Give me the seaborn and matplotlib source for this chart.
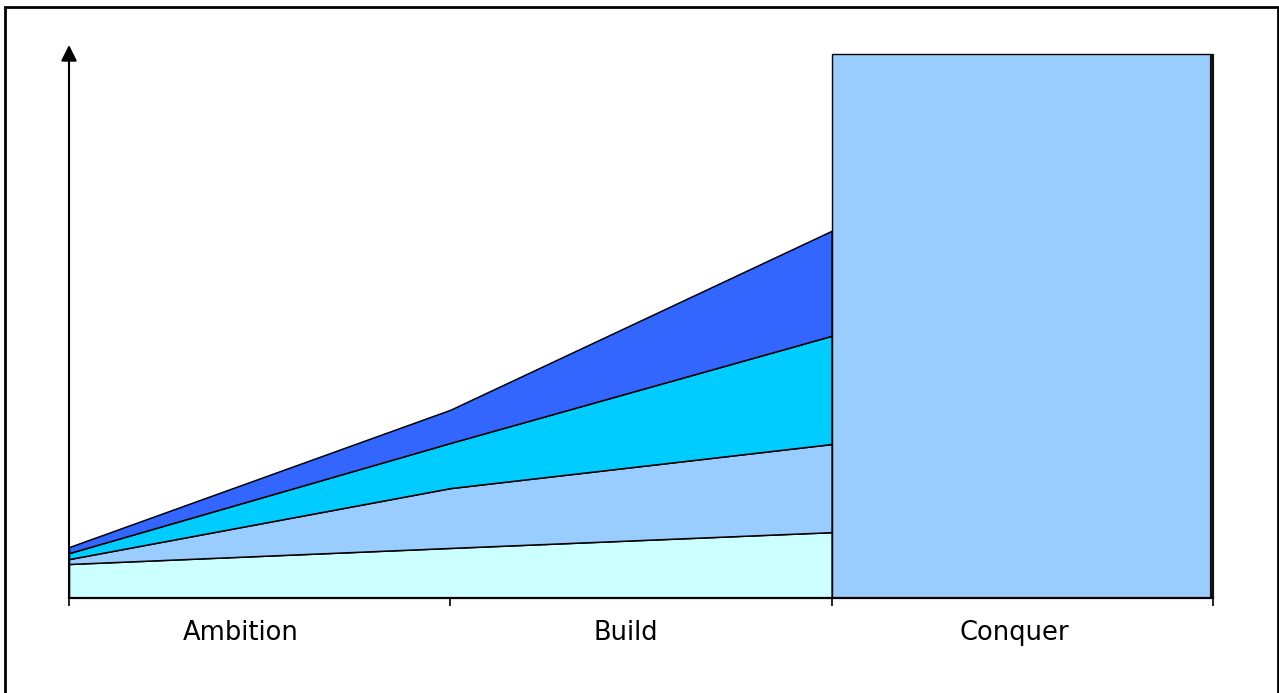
import numpy as np
import matplotlib
matplotlib.use("Agg")
import matplotlib.pyplot as plt
from matplotlib.patches import Rectangle
import seaborn as sns

# --- data ---
phases = ["Ambition", "Build", "Conquer"]
x_pos = [0, 1, 2]
layer_base = [6.25, 9.2, 12.1]      # light cyan
layer_second = [0.9, 11.0, 16.2]    # light blue
layer_third = [1.1, 8.3, 19.9]      # cyan
layer_top = [1.1, 6.1, 19.3]        # blue
conquer_height = 100.0

layer_colors = ["#CCFFFF", "#99CCFF", "#00CCFF", "#3366FF"]
bar_color = "#99CCFF"

sns.set_style("white")
plt.rcParams['font.family'] = ['DejaVu Sans']

fig = plt.figure(figsize=(12.79, 6.93), dpi=100)
ax = fig.add_axes([69 / 1279, 95 / 693, (1213 - 69) / 1279, (598 - 45) / 693])

# stacked areas for Ambition -> Build -> Conquer
ax.stackplot(x_pos, layer_base, layer_second, layer_third, layer_top,
             colors=layer_colors, edgecolor="black", linewidth=1.1)

# Conquer block
ax.bar(2, conquer_height, width=1, align="edge", color=bar_color,
       edgecolor="black", linewidth=1.0, zorder=3)
ax.vlines(3 - 0.002, 0, conquer_height, color="#111111", linewidth=3,
          zorder=4, clip_on=False)

ax.set_xlim(0, 3)
ax.set_ylim(0, (598 - 45) / 5.44)

# axes styling
for side in ["top", "right", "left"]:
    ax.spines[side].set_visible(False)
ax.spines["bottom"].set_color("black")
ax.spines["bottom"].set_linewidth(1.6)
ax.spines["bottom"].set_zorder(5)

ax.set_yticks([])
ax.set_xticks([0, 1, 2, 3])
ax.set_xticklabels([])
ax.tick_params(axis="x", which="major", direction="out", length=6, width=1.2, color="black", bottom=True)
ax.set_xticks([0.45, 1.46, 2.48], minor=True)
ax.set_xticklabels(phases, minor=True, fontsize=18.5, color="black")
ax.tick_params(axis="x", which="minor", length=0, pad=16)

# y axis arrow
ax.annotate("", xy=(0, 1), xycoords="axes fraction", xytext=(0, 0),
            arrowprops=dict(arrowstyle="-|>", color="black", lw=1.5,
                            mutation_scale=24, shrinkA=0, shrinkB=0),
            annotation_clip=False)

# outer frame (bottom runs off the picture)
fig.add_artist(Rectangle((5 / 1279, -0.1), (1278 - 5) / 1279, 0.1 + (693 - 7) / 693,
                         fill=False, edgecolor="black", linewidth=2,
                         transform=fig.transFigure))

fig.savefig("out.png", dpi=100)
